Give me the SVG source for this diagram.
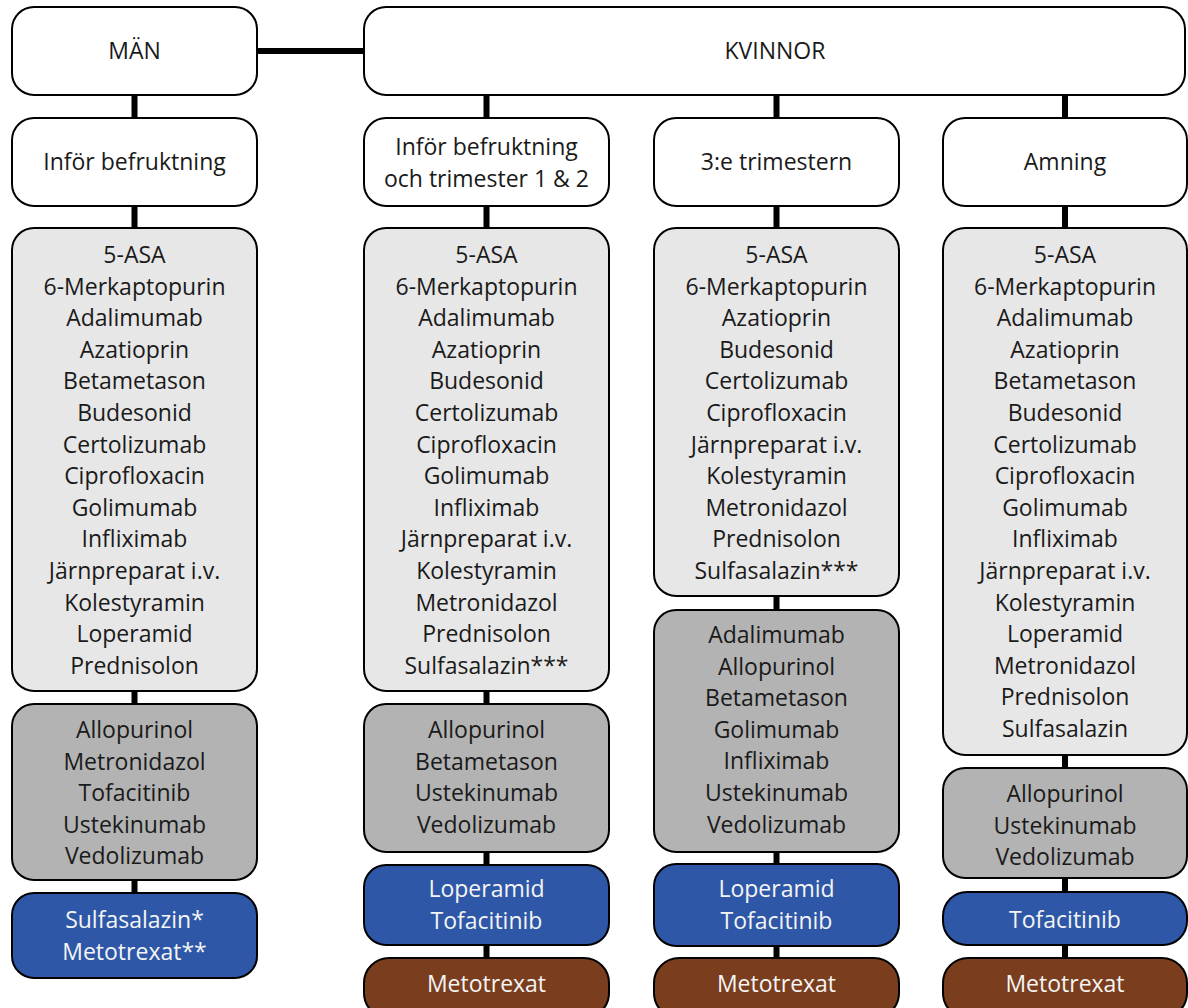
<svg xmlns="http://www.w3.org/2000/svg" width="1188" height="1008" viewBox="0 0 1188 1008">
<style>
.b{stroke:#000;stroke-width:2}
.w{fill:#fff}
.l{fill:#e7e7e7}
.d{fill:#b3b3b3}
.u{fill:#2e58a7}
.r{fill:#7a3e1e}
text{font-family:"Open Sans","Noto Sans",sans-serif;font-size:23px;text-anchor:middle;fill:#1a1a1a}
.t{fill:#f4f4f4}
.c{stroke:#000;stroke-width:6;fill:none}
</style>
<rect width="1188" height="1008" fill="#fff"/>
<g id="connectors">
<path class="c" d="M257 51H364"/>
<path class="c" d="M134.5 95V118M134.5 206V228M134.5 691V704M134.5 880V893"/>
<path class="c" d="M486.5 95V118M486.5 206V228M486.5 691V704M486.5 852V865M486.5 945V958"/>
<path class="c" d="M776.5 95V118M776.5 206V228M776.5 596V610M776.5 852V864M776.5 946V958"/>
<path class="c" d="M1065 95V118M1065 206V228M1065 755V768M1065 878V892M1065 945V958"/>
</g>
<g id="man"><rect class="b w" x="12" y="7" width="245" height="88" rx="22"/><text x="134.5" y="59">MÄN</text></g>
<g id="kvinnor"><rect class="b w" x="364" y="7" width="821" height="88" rx="22"/><text x="775" y="59">KVINNOR</text></g>
<g id="h1"><rect class="b w" x="12" y="118" width="245" height="88" rx="22"/><text x="134.5" y="170">Inför befruktning</text></g>
<g id="h2"><rect class="b w" x="364" y="118" width="245" height="88" rx="22"/><text x="486.5" y="155">Inför befruktning</text><text x="486.5" y="186.5">och trimester 1 &amp; 2</text></g>
<g id="h3"><rect class="b w" x="654" y="118" width="245" height="88" rx="22"/><text x="776.5" y="170">3:e trimestern</text></g>
<g id="h4"><rect class="b w" x="943" y="118" width="244" height="88" rx="22"/><text x="1065" y="170">Amning</text></g>

<g id="c1-light"><rect class="b l" x="12" y="228" width="245" height="463" rx="22"/>
<text x="134.5" y="263">5-ASA</text><text x="134.5" y="294.6">6-Merkaptopurin</text><text x="134.5" y="326.2">Adalimumab</text><text x="134.5" y="357.8">Azatioprin</text><text x="134.5" y="389.4">Betametason</text><text x="134.5" y="421">Budesonid</text><text x="134.5" y="452.6">Certolizumab</text><text x="134.5" y="484.2">Ciprofloxacin</text><text x="134.5" y="515.8">Golimumab</text><text x="134.5" y="547.4">Infliximab</text><text x="134.5" y="579">Järnpreparat i.v.</text><text x="134.5" y="610.6">Kolestyramin</text><text x="134.5" y="642.2">Loperamid</text><text x="134.5" y="673.8">Prednisolon</text></g>
<g id="c1-dark"><rect class="b d" x="12" y="704" width="245" height="176" rx="22"/>
<text x="134.5" y="738">Allopurinol</text><text x="134.5" y="769.6">Metronidazol</text><text x="134.5" y="801.2">Tofacitinib</text><text x="134.5" y="832.8">Ustekinumab</text><text x="134.5" y="864.4">Vedolizumab</text></g>
<g id="c1-blue"><rect class="b u" x="12" y="893" width="245" height="85" rx="22"/>
<text class="t" x="134.5" y="928">Sulfasalazin*</text><text class="t" x="134.5" y="959.6">Metotrexat**</text></g>

<g id="c2-light"><rect class="b l" x="364" y="228" width="245" height="463" rx="22"/>
<text x="486.5" y="263">5-ASA</text><text x="486.5" y="294.6">6-Merkaptopurin</text><text x="486.5" y="326.2">Adalimumab</text><text x="486.5" y="357.8">Azatioprin</text><text x="486.5" y="389.4">Budesonid</text><text x="486.5" y="421">Certolizumab</text><text x="486.5" y="452.6">Ciprofloxacin</text><text x="486.5" y="484.2">Golimumab</text><text x="486.5" y="515.8">Infliximab</text><text x="486.5" y="547.4">Järnpreparat i.v.</text><text x="486.5" y="579">Kolestyramin</text><text x="486.5" y="610.6">Metronidazol</text><text x="486.5" y="642.2">Prednisolon</text><text x="486.5" y="673.8">Sulfasalazin***</text></g>
<g id="c2-dark"><rect class="b d" x="364" y="704" width="245" height="148" rx="22"/>
<text x="486.5" y="738">Allopurinol</text><text x="486.5" y="769.6">Betametason</text><text x="486.5" y="801.2">Ustekinumab</text><text x="486.5" y="832.8">Vedolizumab</text></g>
<g id="c2-blue"><rect class="b u" x="364" y="865" width="245" height="80" rx="22"/>
<text class="t" x="486.5" y="897">Loperamid</text><text class="t" x="486.5" y="928.6">Tofacitinib</text></g>
<g id="c2-brown"><rect class="b r" x="364" y="958" width="245" height="60" rx="25"/>
<text class="t" x="486.5" y="992">Metotrexat</text></g>

<g id="c3-light"><rect class="b l" x="654" y="228" width="245" height="368" rx="22"/>
<text x="776.5" y="263">5-ASA</text><text x="776.5" y="294.6">6-Merkaptopurin</text><text x="776.5" y="326.2">Azatioprin</text><text x="776.5" y="357.8">Budesonid</text><text x="776.5" y="389.4">Certolizumab</text><text x="776.5" y="421">Ciprofloxacin</text><text x="776.5" y="452.6">Järnpreparat i.v.</text><text x="776.5" y="484.2">Kolestyramin</text><text x="776.5" y="515.8">Metronidazol</text><text x="776.5" y="547.4">Prednisolon</text><text x="776.5" y="579">Sulfasalazin***</text></g>
<g id="c3-dark"><rect class="b d" x="654" y="610" width="245" height="242" rx="22"/>
<text x="776.5" y="643">Adalimumab</text><text x="776.5" y="674.6">Allopurinol</text><text x="776.5" y="706.2">Betametason</text><text x="776.5" y="737.8">Golimumab</text><text x="776.5" y="769.4">Infliximab</text><text x="776.5" y="801">Ustekinumab</text><text x="776.5" y="832.6">Vedolizumab</text></g>
<g id="c3-blue"><rect class="b u" x="654" y="864" width="245" height="82" rx="22"/>
<text class="t" x="776.5" y="897">Loperamid</text><text class="t" x="776.5" y="928.6">Tofacitinib</text></g>
<g id="c3-brown"><rect class="b r" x="654" y="958" width="245" height="60" rx="25"/>
<text class="t" x="776.5" y="992">Metotrexat</text></g>

<g id="c4-light"><rect class="b l" x="943" y="228" width="244" height="527" rx="22"/>
<text x="1065" y="263">5-ASA</text><text x="1065" y="294.6">6-Merkaptopurin</text><text x="1065" y="326.2">Adalimumab</text><text x="1065" y="357.8">Azatioprin</text><text x="1065" y="389.4">Betametason</text><text x="1065" y="421">Budesonid</text><text x="1065" y="452.6">Certolizumab</text><text x="1065" y="484.2">Ciprofloxacin</text><text x="1065" y="515.8">Golimumab</text><text x="1065" y="547.4">Infliximab</text><text x="1065" y="579">Järnpreparat i.v.</text><text x="1065" y="610.6">Kolestyramin</text><text x="1065" y="642.2">Loperamid</text><text x="1065" y="673.8">Metronidazol</text><text x="1065" y="705.4">Prednisolon</text><text x="1065" y="737">Sulfasalazin</text></g>
<g id="c4-dark"><rect class="b d" x="943" y="768" width="244" height="110" rx="22"/>
<text x="1065" y="802">Allopurinol</text><text x="1065" y="833.6">Ustekinumab</text><text x="1065" y="865.2">Vedolizumab</text></g>
<g id="c4-blue"><rect class="b u" x="943" y="892" width="244" height="53" rx="24"/>
<text class="t" x="1065" y="928">Tofacitinib</text></g>
<g id="c4-brown"><rect class="b r" x="943" y="958" width="244" height="60" rx="25"/>
<text class="t" x="1065" y="992">Metotrexat</text></g>
</svg>
